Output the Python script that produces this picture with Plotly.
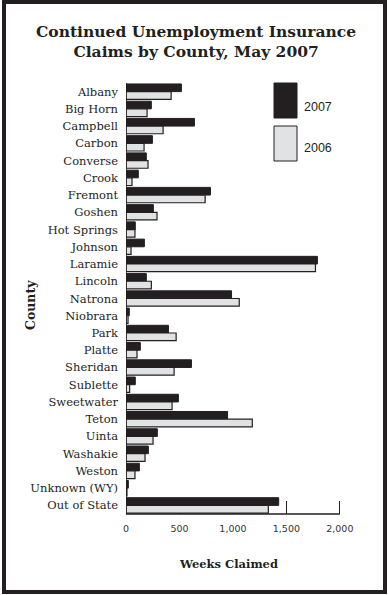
import plotly.graph_objects as go

counties = ["Albany", "Big Horn", "Campbell", "Carbon", "Converse", "Crook", "Fremont",
            "Goshen", "Hot Springs", "Johnson", "Laramie", "Lincoln", "Natrona", "Niobrara",
            "Park", "Platte", "Sheridan", "Sublette", "Sweetwater", "Teton", "Uinta",
            "Washakie", "Weston", "Unknown (WY)", "Out of State"]
claims_2007 = [518, 237, 640, 247, 190, 115, 790, 256, 87, 172, 1790, 190, 987, 31,
               397, 134, 612, 87, 490, 950, 293, 209, 125, 22, 1428]
claims_2006 = [422, 197, 347, 169, 206, 56, 740, 290, 84, 47, 1772, 237, 1059, 19,
               469, 103, 450, 34, 431, 1181, 253, 178, 84, 9, 1331]
x_ticks = [0, 500, 1000, 1500, 2000]
x_tick_labels = ["0", "500", "1,000", "1,500", "2,000"]

DARK = "#231f20"
LIGHT = "#e1e2e4"
W, H = 388, 595
L, R, T, B = 126, 46, 83, 81
PW, PH = W - L - R, H - T - B

def px(x):
    return (x - L) / PW

def py(y):
    return (H - B - y) / PH

fig = go.Figure()
fig.add_trace(go.Bar(y=counties, x=claims_2007, orientation="h", name="2007",
                     marker=dict(color=DARK, line=dict(color=DARK, width=1))))
fig.add_trace(go.Bar(y=counties, x=claims_2006, orientation="h", name="2006",
                     marker=dict(color=LIGHT, line=dict(color=DARK, width=1.2))))

fig.update_layout(
    width=W, height=H,
    margin=dict(l=L, r=R, t=T, b=B),
    paper_bgcolor="white", plot_bgcolor="white",
    barmode="group", bargap=0.11, bargroupgap=0,
    showlegend=False,
    font=dict(family="DejaVu Serif", color=DARK),
    xaxis=dict(range=[0, 2020], tickvals=x_ticks, ticktext=x_tick_labels,
               ticks="inside", ticklen=13, tickwidth=1.3, tickcolor=DARK,
               showline=False, showgrid=False, layer="below traces",
               zeroline=False, ticklabelstandoff=7,
               tickfont=dict(family="DejaVu Sans", size=9.5, color="#333333")),
    yaxis=dict(autorange="reversed", showline=False,
               showgrid=False, ticks="", ticklabelstandoff=7, zeroline=False,
               tickfont=dict(family="DejaVu Serif", size=11.5, color=DARK)),
)

shapes = [
    # frame
    dict(type="rect", xref="paper", yref="paper", x0=px(4), x1=px(385), y0=py(592), y1=py(2),
         line=dict(color=DARK, width=4), fillcolor="rgba(0,0,0,0)", layer="below"),
    # bottom axis line from 0 to 2000
    dict(type="line", xref="x", yref="paper", x0=0, x1=2000, y0=0, y1=0,
         line=dict(color=DARK, width=1.5)),
    # left axis line
    dict(type="line", xref="x", yref="paper", x0=0, x1=0, y0=0, y1=1,
         line=dict(color=DARK, width=1.5)),
    # legend swatches
    dict(type="rect", xref="paper", yref="paper", x0=px(274), x1=px(297), y0=py(118), y1=py(83),
         line=dict(color=DARK, width=1), fillcolor=DARK),
    dict(type="rect", xref="paper", yref="paper", x0=px(274), x1=px(297), y0=py(161), y1=py(126),
         line=dict(color=DARK, width=1), fillcolor=LIGHT),
]
annotations = [
    dict(text="<b>Continued Unemployment Insurance<br>Claims by County, May 2007</b>",
         xref="paper", yref="paper", x=px(196), y=py(42), showarrow=False,
         xanchor="center", yanchor="middle",
         font=dict(family="DejaVu Serif", size=15.5, color=DARK)),
    dict(text="2007", xref="paper", yref="paper", x=px(302), y=py(107), showarrow=False,
         xanchor="left", yanchor="middle", font=dict(family="Liberation Sans", size=12.5, color=DARK)),
    dict(text="2006", xref="paper", yref="paper", x=px(302), y=py(148), showarrow=False,
         xanchor="left", yanchor="middle", font=dict(family="Liberation Sans", size=12.5, color=DARK)),
    dict(text="<b>County</b>", xref="paper", yref="paper", x=px(30), y=py(305), showarrow=False,
         textangle=-90, xanchor="center", yanchor="middle",
         font=dict(family="DejaVu Serif", size=12.5, color=DARK)),
    dict(text="<b>Weeks Claimed</b>", xref="paper", yref="paper", x=px(228), y=py(564),
         showarrow=False, xanchor="center", yanchor="middle",
         font=dict(family="DejaVu Serif", size=11.5, color=DARK)),
]
fig.update_layout(shapes=shapes, annotations=annotations)

fig.write_html("out.html", config={"displayModeBar": False},
               post_script="document.body.style.margin='0';")
